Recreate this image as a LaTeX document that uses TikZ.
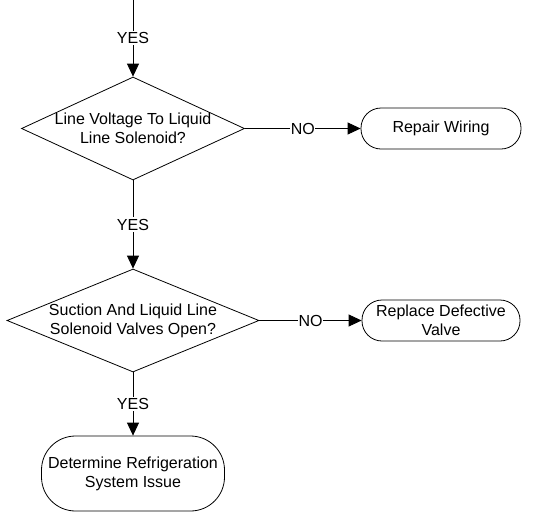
\documentclass[tikz,border=0pt]{standalone}
\usepackage{fontspec}
\setmainfont{Liberation Sans}
\usetikzlibrary{shapes.geometric,arrows.meta}
\begin{document}
\begin{tikzpicture}[x=1pt,y=-1pt,
  every node/.style={font=\fontsize{16}{19}\selectfont},
  dia/.style={draw,line width=0.8pt,shape=diamond,inner sep=0pt},
  txt/.style={align=center,inner sep=0pt},
  term/.style={draw,line width=0.8pt,rectangle,align=center,inner sep=0pt},
  arr/.style={line width=0.8pt,-{Triangle[length=13pt,width=12pt]}},
  lab/.style={fill=white,inner sep=1.5pt}]
\useasboundingbox (0,0) rectangle (533,512);
\coordinate (top) at (133,0);
\node[dia,minimum width=223pt,minimum height=103pt] (d1) at (133,128.5) {};
\node[txt] (d1t) at (d1.center) {Line Voltage To Liquid\\Line Solenoid?};
\node[term,rounded corners=20pt,minimum width=160pt,minimum height=41pt] (rw) at (441,128.5) {Repair Wiring};
\node[dia,minimum width=252pt,minimum height=103pt] (d2) at (133,320.5) {};
\node[txt] (d2t) at (d2.center) {Suction And Liquid Line\\Solenoid Valves Open?};
\node[term,rounded corners=20pt,minimum width=158pt,minimum height=41pt] (rv) at (441,320.5) {Replace Defective\\Valve};
\node[term,rounded corners=34pt,minimum width=183pt,minimum height=75pt] (ds) at (133,473.5) {Determine Refrigeration\\System Issue};
\draw[arr] (top) -- node[lab] {YES} (d1.north);
\draw[arr] (d1.east) -- node[lab,inner sep=0.5pt] {NO} (rw.west);
\draw[arr] (d1.south) -- node[lab] {YES} (d2.north);
\draw[arr] (d2.east) -- node[lab,inner sep=0.5pt] {NO} (rv.west);
\draw[arr] (d2.south) -- node[lab] {YES} (ds.north);
\end{tikzpicture}
\end{document}
